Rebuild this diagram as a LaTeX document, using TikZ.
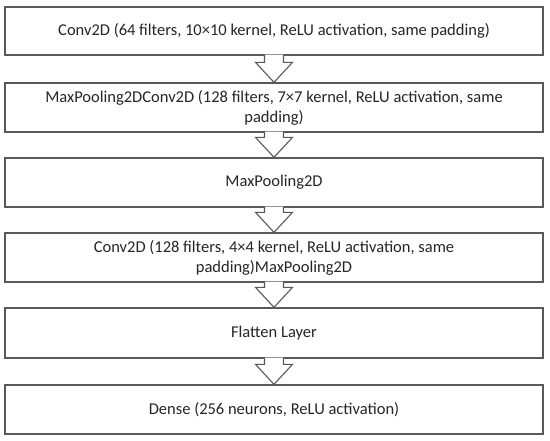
\documentclass[tikz,border=0pt]{standalone}
\usepackage{fontspec}
\setmainfont{Carlito}
\definecolor{linegray}{HTML}{595959}
\definecolor{textgray}{HTML}{262626}
\tikzset{
  layerbox/.style={draw=linegray, line width=1.3pt, fill=white, minimum width=538pt, minimum height=49pt, inner sep=2pt, align=center, text=textgray, font=\fontsize{16.5}{20}\selectfont},
  blockarr/.style={draw=linegray, line width=1.1pt, fill=white, line join=miter}
}
\newcommand{\blockarrow}[2]{%
  \draw[blockarr] ([xshift=-9.5pt,yshift=1pt]#1.south) -- ([xshift=-9.5pt,yshift=20pt]#2.north) -- ([xshift=-18.5pt,yshift=20pt]#2.north) -- (#2.north) -- ([xshift=18.5pt,yshift=20pt]#2.north) -- ([xshift=9.5pt,yshift=20pt]#2.north) -- ([xshift=9.5pt,yshift=1pt]#1.south);}
\begin{document}
\begin{tikzpicture}[x=1pt,y=-1pt]
\useasboundingbox[fill=white] (0,0) rectangle (550,441);
\node[layerbox, minimum height=48pt] (b1) at (274,31) {Conv2D (64 filters, 10×10 kernel, ReLU activation, same padding)};
\node[layerbox] (b2) at (274,107.5) {MaxPooling2DConv2D (128 filters, 7×7 kernel, ReLU activation, same\\padding)};
\node[layerbox] (b3) at (274,182.5) {MaxPooling2D};
\node[layerbox] (b4) at (274,257.5) {Conv2D (128 filters, 4×4 kernel, ReLU activation, same\\padding)MaxPooling2D};
\node[layerbox, minimum height=50pt] (b5) at (274,333) {Flatten Layer};
\node[layerbox] (b6) at (274,409.5) {Dense (256 neurons, ReLU activation)};
\blockarrow{b1}{b2}
\blockarrow{b2}{b3}
\blockarrow{b3}{b4}
\blockarrow{b4}{b5}
\blockarrow{b5}{b6}
\end{tikzpicture}
\end{document}
